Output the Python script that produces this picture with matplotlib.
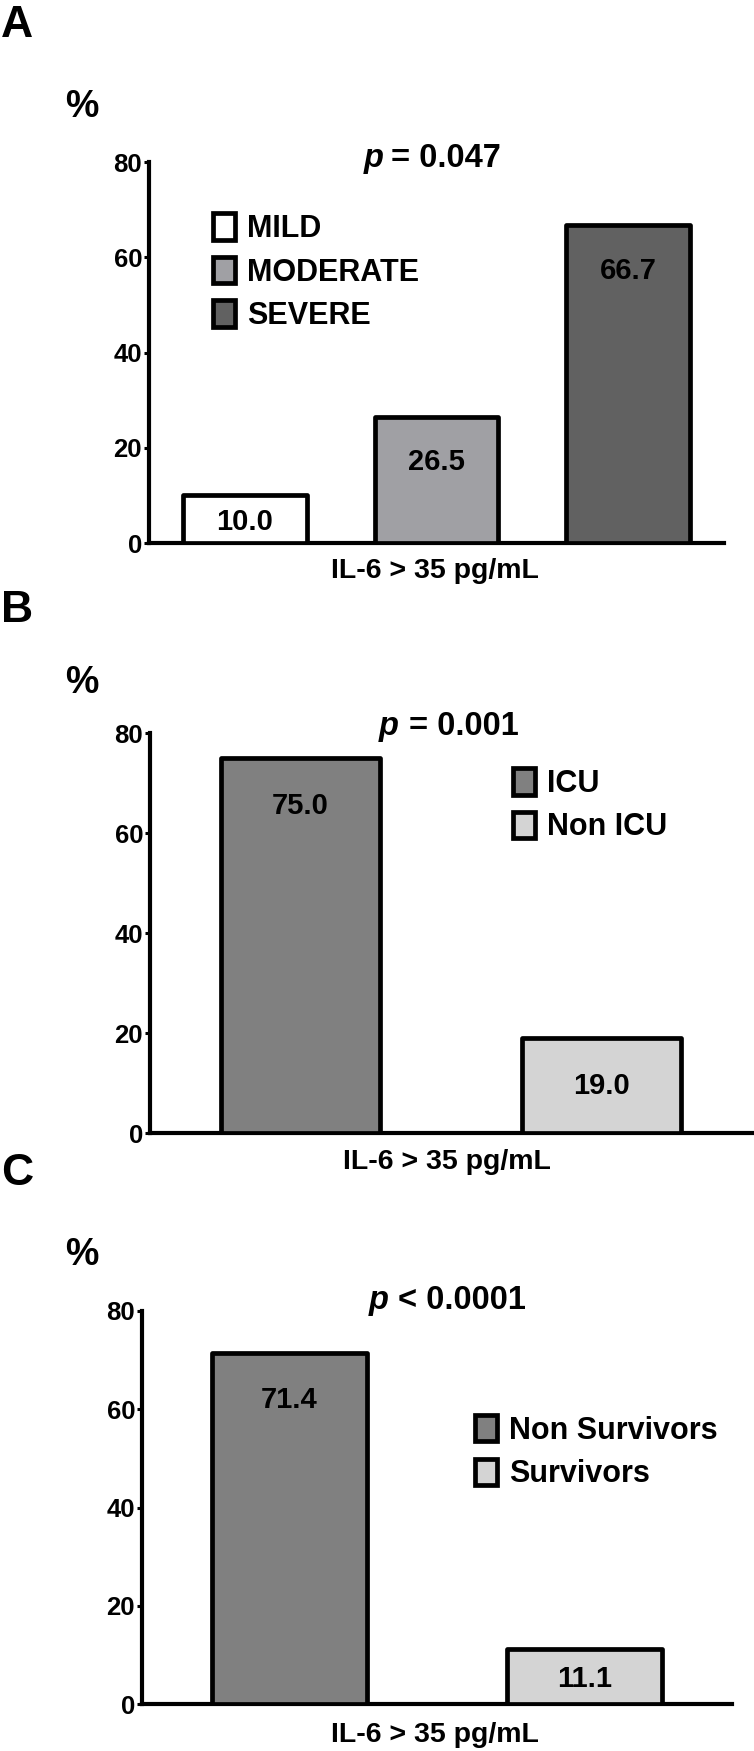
import matplotlib
matplotlib.use("Agg")
import matplotlib.pyplot as plt
from matplotlib.patches import Patch

plt.rcParams['font.family'] = ['Liberation Sans', 'DejaVu Sans']
plt.rcParams['font.weight'] = 'bold'

# ---------------- data ----------------
yticks = [0, 20, 40, 60, 80]
xlabel = "IL-6 > 35 pg/mL"

A_categories = ["MILD", "MODERATE", "SEVERE"]
A_values = [10.0, 26.5, 66.7]
A_colors = ["#ffffff", "#a0a0a4", "#616161"]
A_p = ("p", "= 0.047")

B_categories = ["ICU", "Non ICU"]
B_values = [75.0, 19.0]
B_colors = ["#808080", "#d4d4d4"]
B_p = ("p", "= 0.001")

C_categories = ["Non Survivors", "Survivors"]
C_values = [71.4, 11.1]
C_colors = ["#808080", "#d4d4d4"]
C_p = ("p", "< 0.0001")

W, H = 754, 1751
fig = plt.figure(figsize=(W / 100, H / 100), dpi=100)


def fx(x):
    return x / W


def fy(y):
    return 1 - y / H


def panel(letter, cats, vals, cols, ptxt, ax_px, bar_w, leg_anchor,
          letter_base, pct_base, p_px, xl_px):
    left, right, top, bottom = ax_px
    ax = fig.add_axes([fx(left), fy(bottom), (right - left) / W, (bottom - top) / H])
    x = list(range(len(vals)))
    bars = ax.bar(x, vals, width=bar_w, color=cols, edgecolor="black",
                  linewidth=3.4, zorder=3)
    for b in bars:
        b.set_joinstyle("round")
    ax.set_xlim(-0.5, len(vals) - 0.5)
    ax.set_ylim(0, 80)
    ax.set_yticks(yticks)
    ax.set_xticks([])
    for s in ("top", "right"):
        ax.spines[s].set_visible(False)
    for s in ("left", "bottom"):
        ax.spines[s].set_linewidth(3.0)
        ax.spines[s].set_capstyle("projecting")
    ax.tick_params(axis="y", length=3.5, width=2.2, pad=1.5, labelsize=18.5)
    for lab in ax.get_yticklabels():
        lab.set_fontweight("bold")
    # value labels
    for xi, v in zip(x, vals):
        ax.text(xi, v - min(9.5, 0.55 * v), f"{v:.1f}", ha="center",
                va="center", fontsize=21, fontweight="bold", zorder=4)
    # legend
    handles = [Patch(facecolor=c, edgecolor="black", linewidth=3.4,
                     joinstyle="round", label=n) for n, c in zip(cats, cols)]
    ax.legend(handles=handles, loc="upper left", bbox_to_anchor=leg_anchor,
              frameon=False, handlelength=0.72, handleheight=0.95,
              handletextpad=0.4, labelspacing=0.42, borderpad=0,
              borderaxespad=0, prop={"weight": "bold", "size": 22})
    # panel letter and % sign
    fig.text(fx(1), fy(letter_base), letter, fontsize=32, fontweight="bold",
             ha="left", va="baseline")
    fig.text(fx(82), fy(pct_base), "%", fontsize=27, fontweight="bold",
             ha="center", va="baseline")
    # p value
    p_right, p_left, p_base = p_px
    fig.text(fx(p_right), fy(p_base), ptxt[0], fontsize=23.5, fontweight="bold",
             style="italic", ha="right", va="baseline")
    fig.text(fx(p_left), fy(p_base), ptxt[1], fontsize=23.5, fontweight="bold",
             ha="left", va="baseline")
    # x label
    fig.text(fx(xl_px[0]), fy(xl_px[1]), xlabel, fontsize=20.5,
             fontweight="bold", ha="center", va="baseline")
    return ax


panel("A", A_categories, A_values, A_colors, A_p,
      (149, 724, 162, 543), 0.645, (0.111, 0.865),
      37, 117, (384, 391, 167), (435, 578))
panel("B", B_categories, B_values, B_colors, B_p,
      (150, 752, 733, 1133), 0.525, (0.603, 0.912),
      622, 693, (399, 409, 735), (447, 1169))
panel("C", C_categories, C_values, C_colors, C_p,
      (142, 732, 1311, 1704), 0.525, (0.564, 0.735),
      1185, 1265, (389, 398, 1309), (435, 1742))

fig.savefig("out.png", dpi=100)
